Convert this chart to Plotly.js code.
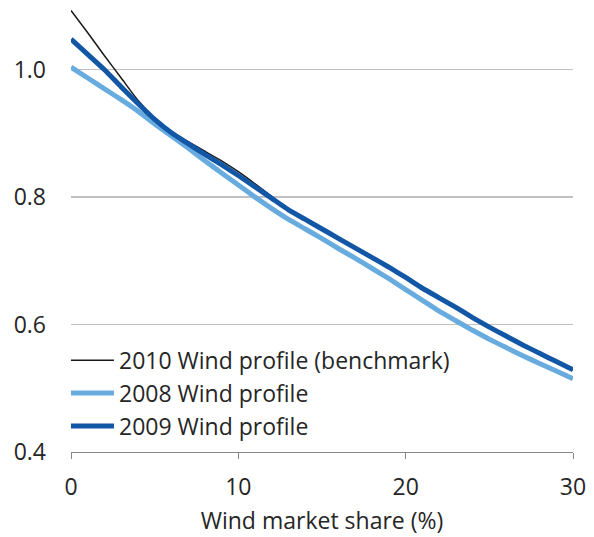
<!DOCTYPE html>
<html>
<head>
<meta charset="utf-8">
<script src="https://cdn.plot.ly/plotly-3.0.1.min.js"></script>
<style>html,body{margin:0;padding:0;background:#fff;}#chart{width:594px;height:537px;}</style>
</head>
<body>
<div id="chart"></div>
<script>
const windShare = [0,1,2,3,4,5,6,7,8,9,10,11,12,13,14,15,16,17,18,19,20,21,22,23,24,25,26,27,28,29,30];
const profile2010 = [1.093,1.058,1.022,0.987,0.952,0.924,0.903,0.887,0.872,0.857,0.840,0.821,0.801,0.781,0.765,0.750,0.735,0.720,0.705,0.690,0.674,0.657,0.642,0.627,0.611,0.596,0.582,0.568,0.555,0.542,0.529];
const profile2008 = [1.004,0.987,0.970,0.953,0.935,0.915,0.896,0.877,0.857,0.838,0.819,0.800,0.782,0.765,0.750,0.735,0.719,0.704,0.688,0.672,0.655,0.638,0.621,0.606,0.591,0.577,0.564,0.551,0.539,0.527,0.515];
const profile2009 = [1.048,1.024,1.000,0.973,0.947,0.922,0.901,0.884,0.867,0.851,0.834,0.816,0.798,0.780,0.765,0.750,0.735,0.720,0.705,0.690,0.674,0.657,0.642,0.627,0.611,0.596,0.582,0.568,0.555,0.542,0.529];
const seriesNames = ["2010 Wind profile (benchmark)", "2008 Wind profile", "2009 Wind profile"];
const yTicks = [0.4, 0.6, 0.8, 1.0];
const yTickText = ["0.4", "0.6", "0.8", "1.0"];
const xTicks = [0, 10, 20, 30];

const font = "'Open Sans', 'Liberation Sans', sans-serif";
const traces = [
  {x: windShare, y: profile2010, name: seriesNames[0], type: 'scatter', mode: 'lines',
   line: {color: '#1a1a1a', width: 1.5, shape: 'spline', smoothing: 0.5}},
  {x: windShare, y: profile2008, name: seriesNames[1], type: 'scatter', mode: 'lines',
   line: {color: '#68acdf', width: 5, shape: 'spline', smoothing: 0.5}},
  {x: windShare, y: profile2009, name: seriesNames[2], type: 'scatter', mode: 'lines',
   line: {color: '#1257a6', width: 5, shape: 'spline', smoothing: 0.5}}
];
const layout = {
  width: 594, height: 537,
  margin: {l: 71, r: 21, t: 6, b: 85},
  paper_bgcolor: '#fff', plot_bgcolor: '#fff',
  font: {family: font, size: 23, color: '#262626'},
  showlegend: true,
  legend: {x: -0.01, y: 0.254, xanchor: 'left', yanchor: 'top', bgcolor: 'rgba(0,0,0,0)',
           font: {family: font, size: 23, color: '#262626'}, itemwidth: 43, tracegroupgap: 0},
  xaxis: {range: [0, 30], tickvals: xTicks, ticks: 'outside', ticklen: 6, tickcolor: '#888',
          showline: true, linecolor: '#888', linewidth: 1, showgrid: false, zeroline: false,
          ticklabelstandoff: 8, tickfont: {size: 23}, fixedrange: true,
          title: {text: 'Wind market share (%)', font: {size: 23}, standoff: 12}},
  yaxis: {range: [0.4, 1.1], tickvals: yTicks, ticktext: yTickText, ticks: '',
          showgrid: true, gridcolor: '#c0c0c0', gridwidth: 1.5, zeroline: false, showline: false,
          ticklabelstandoff: 24, tickfont: {size: 23}, fixedrange: true}
};
Plotly.newPlot('chart', traces, layout, {displayModeBar: false, staticPlot: true});
</script>
</body>
</html>
